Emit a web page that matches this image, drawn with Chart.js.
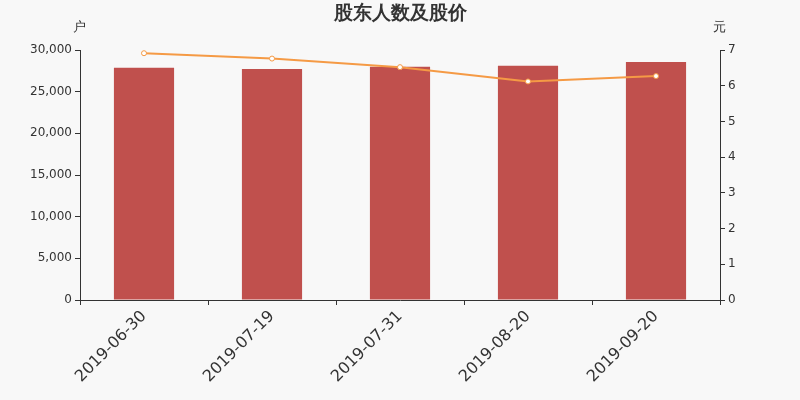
<!DOCTYPE html>
<html>
<head>
<meta charset="utf-8">
<script src="https://cdn.jsdelivr.net/npm/chart.js@4/dist/chart.umd.min.js"></script>
<style>
  html, body { margin: 0; padding: 0; background: #f8f8f8; }
  #wrap { width: 800px; height: 400px; }
</style>
</head>
<body>
<div id="wrap"><canvas id="chart" width="800" height="400"></canvas></div>
<script>
// --- Data ---
const dates = ['2019-06-30', '2019-07-19', '2019-07-31', '2019-08-20', '2019-09-20'];
const holders = [27880, 27720, 28000, 28120, 28560];   // 户
const prices = [6.91, 6.76, 6.52, 6.12, 6.27];          // 元
const leftTicks = [0, 5000, 10000, 15000, 20000, 25000, 30000];
const rightTicks = [0, 1, 2, 3, 4, 5, 6, 7];

const FONT = '"DejaVu Sans", sans-serif';
const TEXT = '#333';

// draws title and unit labels above the axes
const labelsPlugin = {
    id: 'labels',
    afterDraw(chart) {
        const ctx = chart.ctx;
        const area = chart.chartArea;
        ctx.save();
        ctx.fillStyle = TEXT;
        ctx.textAlign = 'center';
        ctx.textBaseline = 'middle';
        ctx.font = 'bold 19px ' + FONT;
        ctx.fillText('股东人数及股价', 400, 14);
        ctx.font = '13px ' + FONT;
        ctx.fillText('户', area.left - 1, 28);
        ctx.fillText('元', area.right - 1, 28);
        ctx.restore();
    }
};

const axisLine = {
    display: true,
    drawOnChartArea: false,
    drawTicks: true,
    tickLength: 5,
    color: TEXT
};

new Chart(document.getElementById('chart'), {
    data: {
        labels: dates,
        datasets: [
            {
                type: 'line',
                label: '股价',
                data: prices,
                yAxisID: 'y1',
                borderColor: '#f59a45',
                borderWidth: 2,
                pointRadius: 2.5,
                pointBackgroundColor: '#ffffff',
                pointBorderColor: '#f59a45',
                pointBorderWidth: 1,
                tension: 0,
                order: 0
            },
            {
                type: 'bar',
                label: '股东人数',
                data: holders,
                yAxisID: 'y',
                backgroundColor: '#c0504d',
                categoryPercentage: 1,
                barPercentage: 0.47,
                order: 1
            }
        ]
    },
    options: {
        responsive: false,
        animation: false,
        layout: { padding: { top: 50, left: 0, right: 0, bottom: 0 } },
        plugins: {
            legend: { display: false },
            title: { display: false },
            tooltip: { enabled: false }
        },
        scales: {
            x: {
                offset: true,
                grid: { ...axisLine, offset: true },
                border: { display: true, color: TEXT, width: 1 },
                ticks: {
                    color: TEXT,
                    font: { family: FONT, size: 16 },
                    maxRotation: 45,
                    minRotation: 45,
                    padding: 2
                },
                afterFit(scale) { scale.height = 100; }
            },
            y: {
                position: 'left',
                min: 0,
                max: 30000,
                afterBuildTicks(scale) { scale.ticks = leftTicks.map(v => ({ value: v })); },
                grid: axisLine,
                border: { display: true, color: TEXT, width: 1 },
                ticks: {
                    color: TEXT,
                    font: { family: FONT, size: 12 },
                    padding: 3,
                    callback: v => v.toLocaleString('en-US')
                },
                afterFit(scale) { scale.width = 80; }
            },
            y1: {
                position: 'right',
                min: 0,
                max: 7,
                afterBuildTicks(scale) { scale.ticks = rightTicks.map(v => ({ value: v })); },
                grid: axisLine,
                border: { display: true, color: TEXT, width: 1 },
                ticks: {
                    color: TEXT,
                    font: { family: FONT, size: 12 },
                    padding: 3
                },
                afterFit(scale) { scale.width = 80; }
            }
        }
    },
    plugins: [labelsPlugin, {
        id: 'bg',
        beforeDraw(chart) {
            const ctx = chart.ctx;
            ctx.save();
            ctx.fillStyle = '#f8f8f8';
            ctx.fillRect(0, 0, chart.width, chart.height);
            ctx.restore();
        }
    }]
});
</script>
</body>
</html>
